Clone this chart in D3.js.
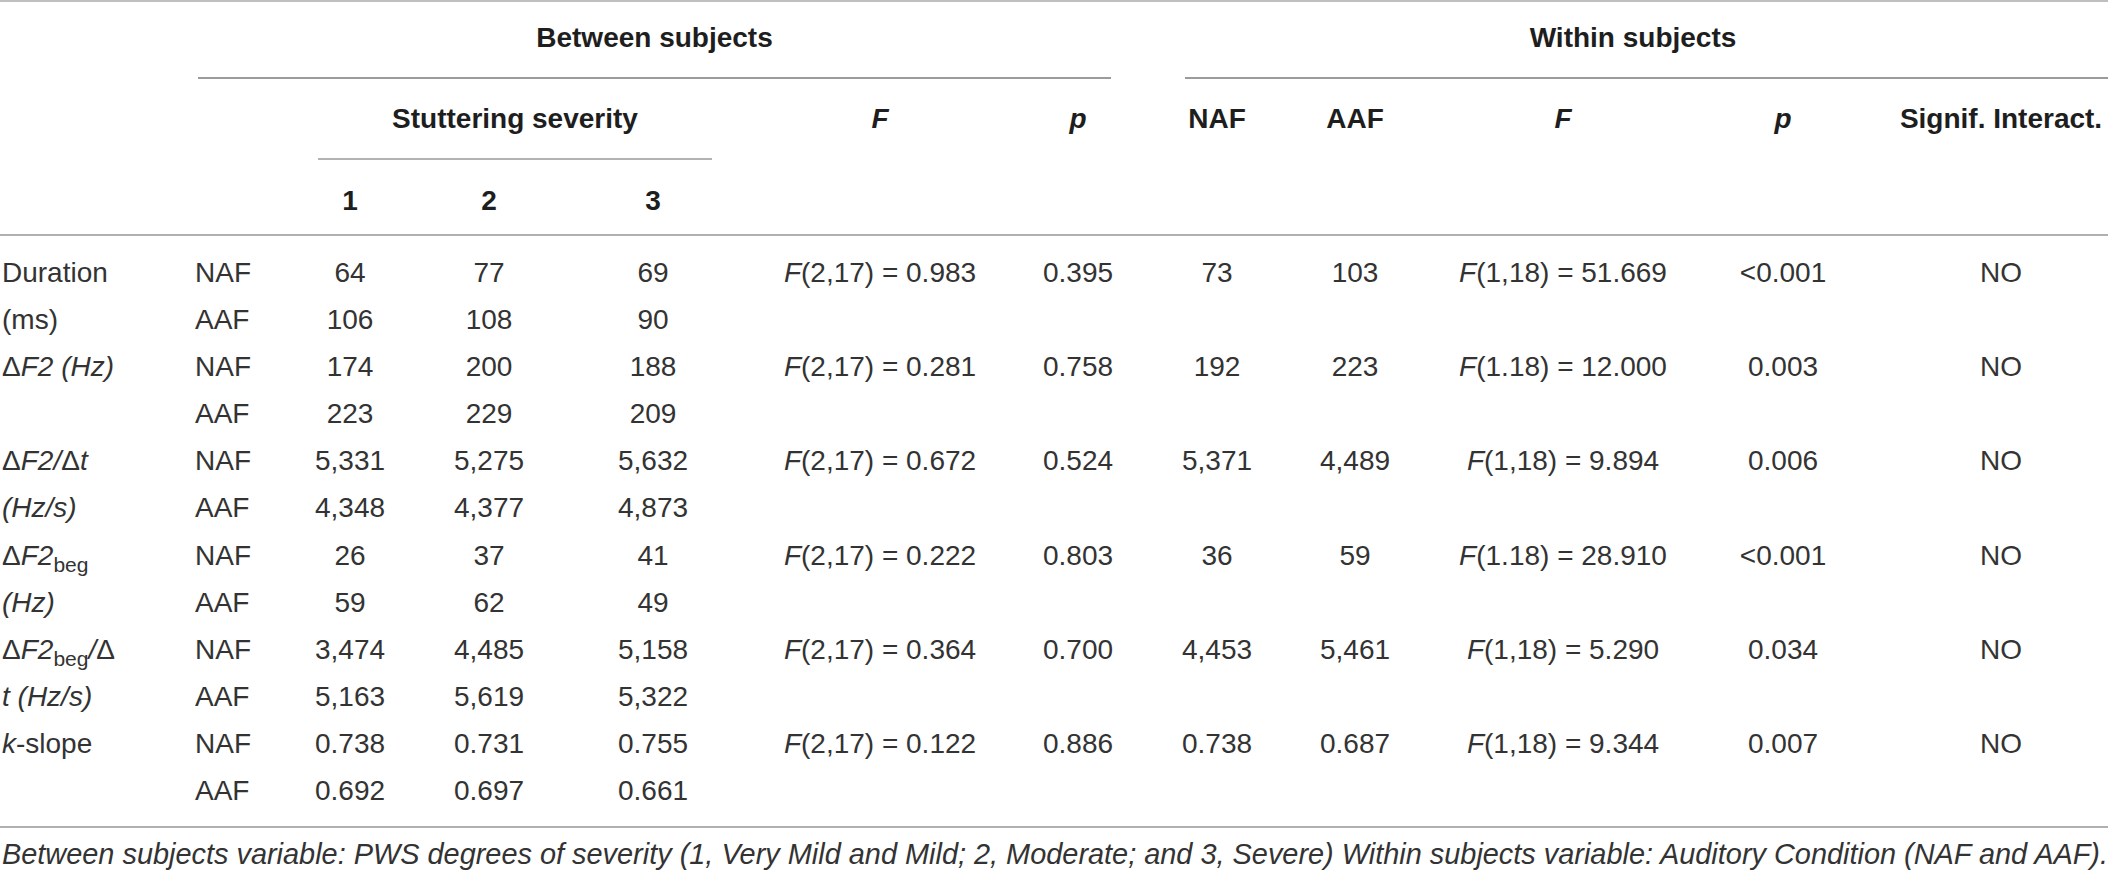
<!DOCTYPE html>
<html lang="en">
  <head>
    <meta charset="UTF-8" />
    <title>Stuttering severity table</title>
    <style>
      html,
      body {
        margin: 0;
        padding: 0;
        background: #fff;
      }
      svg text {
        font-family: "Liberation Sans", Arial, Helvetica, sans-serif;
      }
    </style>
  </head>
  <body>
    <div id="chart"></div>
    <script src="https://cdnjs.cloudflare.com/ajax/libs/d3/7.8.5/d3.min.js"></script>
    <script>
      var width = 2108,
        height = 870;

      // table content
      // each label is a list of [text, style] pieces ("n" plain, "i" italic, "s" subscript)
      var measureLabels = [
        [["Duration", "n"]],
        [["(ms)", "n"]],
        [["\u0394", "n"], ["F2 (Hz)", "i"]],
        [],
        [["\u0394", "n"], ["F2/", "i"], ["\u0394", "n"], ["t", "i"]],
        [["(Hz/s)", "i"]],
        [["\u0394", "n"], ["F2", "i"], ["beg", "s"]],
        [["(Hz)", "i"]],
        [["\u0394", "n"], ["F2", "i"], ["beg", "s"], ["/", "i"], ["\u0394", "n"]],
        [["t (Hz/s)", "i"]],
        [["k", "i"], ["-slope", "n"]],
        [],
      ];
      var conditions = ["NAF", "AAF"];
      var severityLevels = ["1", "2", "3"];

      var severityNAF = [
        ["64", "77", "69"],
        ["174", "200", "188"],
        ["5,331", "5,275", "5,632"],
        ["26", "37", "41"],
        ["3,474", "4,485", "5,158"],
        ["0.738", "0.731", "0.755"],
      ];
      var severityAAF = [
        ["106", "108", "90"],
        ["223", "229", "209"],
        ["4,348", "4,377", "4,873"],
        ["59", "62", "49"],
        ["5,163", "5,619", "5,322"],
        ["0.692", "0.697", "0.661"],
      ];

      var betweenF = ["(2,17) = 0.983", "(2,17) = 0.281", "(2,17) = 0.672",
        "(2,17) = 0.222", "(2,17) = 0.364", "(2,17) = 0.122"];
      var betweenP = ["0.395", "0.758", "0.524", "0.803", "0.700", "0.886"];

      var withinNAF = ["73", "192", "5,371", "36", "4,453", "0.738"];
      var withinAAF = ["103", "223", "4,489", "59", "5,461", "0.687"];
      var withinF = ["(1,18) = 51.669", "(1.18) = 12.000", "(1,18) = 9.894",
        "(1.18) = 28.910", "(1,18) = 5.290", "(1,18) = 9.344"];
      var withinP = ["<0.001", "0.003", "0.006", "<0.001", "0.034", "0.007"];
      var signif = ["NO", "NO", "NO", "NO", "NO", "NO"];

      var caption =
        "Between subjects variable: PWS degrees of severity (1, Very Mild and Mild; 2, Moderate; and 3, Severe) Within subjects variable: Auditory Condition (NAF and AAF).";

      var columnKeys = ["label", "cond", "s1", "s2", "s3", "bF", "bP", "wNAF", "wAAF", "wF", "wP", "sig"];

      //Create scales
      var xCol = d3
        .scaleOrdinal()
        .domain(columnKeys)
        .range([2, 195, 350, 489, 653, 880, 1078, 1217, 1355, 1563, 1783, 2001]);

      var yRow = d3.scaleLinear().domain([0, 11]).range([272, 790]);

      var fontSize = 28;
      var baseOff = 10; // visual centre -> baseline

      //SVG container
      var svg = d3
        .select("#chart")
        .append("svg")
        .attr("width", width)
        .attr("height", height);

      // rules
      var rules = [
        { x1: 0, x2: width, y: 1, c: "#aaaaaa", w: 1.5 },
        { x1: 198, x2: 1111, y: 78, c: "#7a7a7a", w: 1.5 },
        { x1: 1185, x2: width, y: 78, c: "#7a7a7a", w: 1.5 },
        { x1: 318, x2: 712, y: 159, c: "#999999", w: 1.5 },
        { x1: 0, x2: width, y: 235, c: "#b0b0b0", w: 2 },
        { x1: 0, x2: width, y: 827, c: "#b0b0b0", w: 2 },
      ];
      svg
        .selectAll(".rule")
        .data(rules)
        .enter()
        .append("line")
        .attr("class", "rule")
        .attr("x1", function (d) { return d.x1; })
        .attr("x2", function (d) { return d.x2; })
        .attr("y1", function (d) { return d.y; })
        .attr("y2", function (d) { return d.y; })
        .attr("stroke", function (d) { return d.c; })
        .attr("stroke-width", function (d) { return d.w; });

      // header
      var head = svg
        .append("g")
        .attr("font-size", fontSize)
        .attr("font-weight", "bold")
        .attr("fill", "#1e1e1e")
        .attr("text-anchor", "middle");

      head.append("text").attr("x", (198 + 1111) / 2).attr("y", 37 + baseOff).text("Between subjects");
      head.append("text").attr("x", 1633).attr("y", 37 + baseOff).text("Within subjects");
      head.append("text").attr("x", (318 + 712) / 2).attr("y", 118 + baseOff).text("Stuttering severity");

      head
        .selectAll(".sev")
        .data(severityLevels)
        .enter()
        .append("text")
        .attr("class", "sev")
        .attr("x", function (d, i) { return xCol(columnKeys[2 + i]); })
        .attr("y", 200 + baseOff)
        .text(function (d) { return d; });

      var subHeads = [
        { key: "bF", t: "F", it: true },
        { key: "bP", t: "p", it: true },
        { key: "wNAF", t: "NAF", it: false },
        { key: "wAAF", t: "AAF", it: false },
        { key: "wF", t: "F", it: true },
        { key: "wP", t: "p", it: true },
        { key: "sig", t: "Signif. Interact.", it: false },
      ];
      head
        .selectAll(".sub")
        .data(subHeads)
        .enter()
        .append("text")
        .attr("class", "sub")
        .attr("x", function (d) { return xCol(d.key); })
        .attr("y", 118 + baseOff)
        .attr("font-style", function (d) { return d.it ? "italic" : "normal"; })
        .text(function (d) { return d.t; });

      // body
      var body = svg
        .append("g")
        .attr("font-size", fontSize)
        .attr("fill", "#333333");

      // row labels
      body
        .selectAll(".rowlabel")
        .data(measureLabels)
        .enter()
        .append("text")
        .attr("class", "rowlabel")
        .attr("x", xCol("label"))
        .attr("y", function (d, i) { return yRow(i) + baseOff; })
        .each(function (parts) {
          var t = d3.select(this);
          parts.forEach(function (p) {
            var ts = t.append("tspan").text(p[0]);
            if (p[1] === "i") ts.attr("font-style", "italic");
            if (p[1] === "s") ts.attr("font-size", 21).attr("baseline-shift", -7);
          });
        });

      // condition column
      var rowIdx = d3.range(12);
      body
        .selectAll(".cond")
        .data(rowIdx)
        .enter()
        .append("text")
        .attr("class", "cond")
        .attr("x", xCol("cond"))
        .attr("y", function (i) { return yRow(i) + baseOff; })
        .text(function (i) { return conditions[i % 2]; });

      // severity cells
      var cells = [];
      severityNAF.forEach(function (row, m) {
        row.forEach(function (v, j) {
          cells.push({ row: m * 2, col: columnKeys[2 + j], v: v });
        });
      });
      severityAAF.forEach(function (row, m) {
        row.forEach(function (v, j) {
          cells.push({ row: m * 2 + 1, col: columnKeys[2 + j], v: v });
        });
      });
      [
        ["bP", betweenP],
        ["wNAF", withinNAF],
        ["wAAF", withinAAF],
        ["wP", withinP],
        ["sig", signif],
      ].forEach(function (c) {
        c[1].forEach(function (v, m) {
          cells.push({ row: m * 2, col: c[0], v: v });
        });
      });

      body
        .selectAll(".cell")
        .data(cells)
        .enter()
        .append("text")
        .attr("class", "cell")
        .attr("text-anchor", "middle")
        .attr("x", function (d) { return xCol(d.col); })
        .attr("y", function (d) { return yRow(d.row) + baseOff; })
        .text(function (d) { return d.v; });

      // F statistic cells with italic F
      var fCells = [];
      betweenF.forEach(function (v, m) { fCells.push({ row: m * 2, col: "bF", v: v }); });
      withinF.forEach(function (v, m) { fCells.push({ row: m * 2, col: "wF", v: v }); });

      body
        .selectAll(".fcell")
        .data(fCells)
        .enter()
        .append("text")
        .attr("class", "fcell")
        .attr("text-anchor", "middle")
        .attr("x", function (d) { return xCol(d.col); })
        .attr("y", function (d) { return yRow(d.row) + baseOff; })
        .each(function (d) {
          var t = d3.select(this);
          t.append("tspan").attr("font-style", "italic").text("F");
          t.append("tspan").text(d.v);
        });

      // caption
      svg
        .append("text")
        .attr("x", 2)
        .attr("y", 864)
        .attr("font-size", 28.9)
        .attr("font-style", "italic")
        .attr("fill", "#333333")
        .text(caption);
    </script>
  </body>
</html>
